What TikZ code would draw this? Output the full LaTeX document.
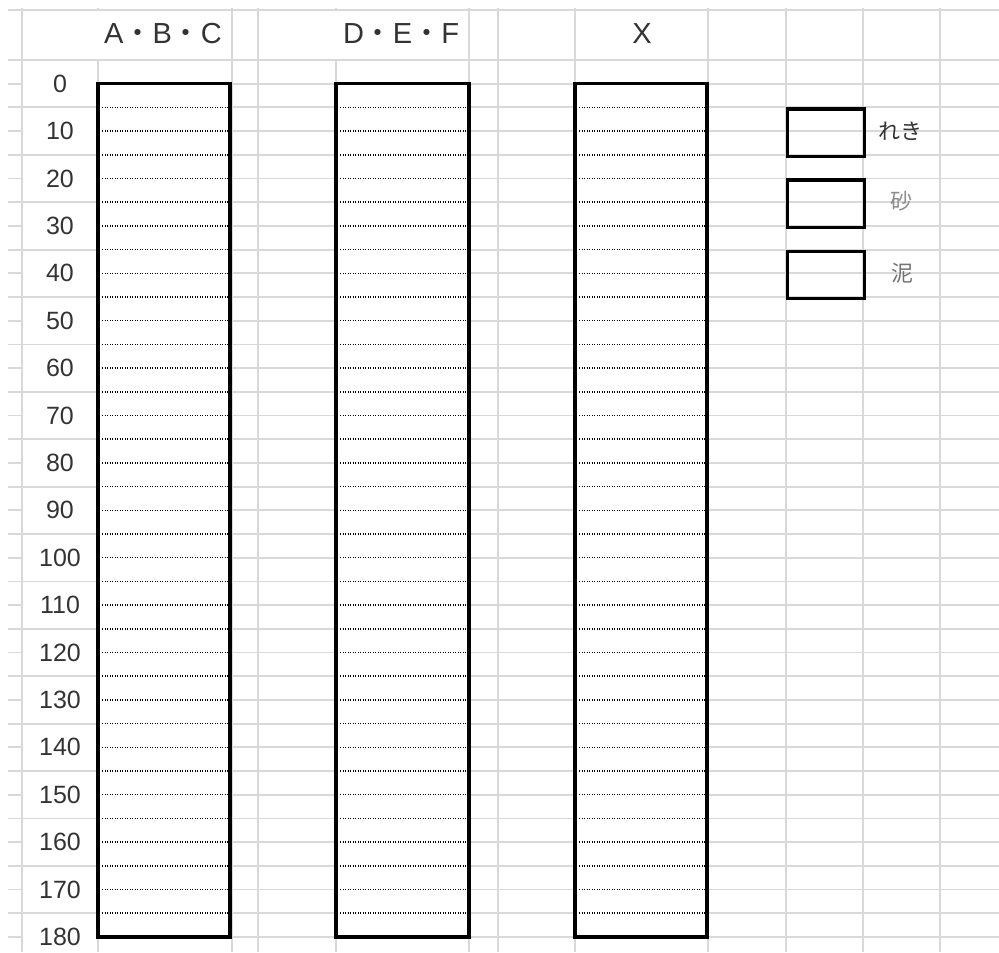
\documentclass[tikz,border=0pt]{standalone}
\usepackage{fontspec}
\setmainfont{Liberation Sans}
\newfontfamily\cjk{Noto Sans CJK JP}
\usepackage{xcolor}
\usetikzlibrary{positioning}
\definecolor{gridgray}{HTML}{D9D9D9}
\definecolor{inkgray}{HTML}{333333}

\begin{document}
\begin{tikzpicture}[x=0.5pt, y=-0.5pt,
    gridline/.style={draw=gridgray, line width=0.9pt},
    column/.style={draw=black, fill=white, line width=1.6pt},
    layer/.style={draw=black, line width=0.75pt, dash pattern=on 0.55pt off 0.7pt},
    legendbox/.style={draw=black, line width=1.6pt, minimum width=38.5pt, minimum height=23.7pt, inner sep=0pt, anchor=north west},
    header/.style={font=\fontsize{14.5}{16}\selectfont, text=inkgray},
    depth/.style={font=\fontsize{12.5}{14}\selectfont, text=inkgray},
    soil/.style={font=\cjk\fontsize{11}{13}\selectfont}
]
\useasboundingbox (0,0) rectangle (999,952);
% spreadsheet grid
\draw[gridline] (8,10) -- (999,10);
\draw[gridline] (8,60) -- (999,60);
\foreach \k in {1,...,37}{
  \pgfmathsetmacro\yy{60+23.7*\k}
  \draw[gridline] (8,\yy) -- (22,\yy);
  \draw[gridline] (232,\yy) -- (336,\yy);
  \draw[gridline] (469,\yy) -- (575,\yy);
  \draw[gridline] (708,\yy) -- (999,\yy);
}
\foreach \k in {2,4,...,36}{
  \pgfmathsetmacro\yy{60+23.7*\k}
  \draw[gridline] (22,\yy) -- (98,\yy);
}
\foreach \x in {22,232,258,469,498,575,708,786,863,940}
  \draw[gridline] (\x,8) -- (\x,952);
\foreach \x in {98,336}{
  \draw[gridline] (\x,8) -- (\x,10);
  \draw[gridline] (\x,60) -- (\x,952);
}
% columns with 10 cm layers
\foreach \xl/\xr in {98/230, 336/469, 575/707}{
  \draw[column] (\xl,83.7) rectangle (\xr,936.9);
  \foreach \k in {2,...,36}{
    \pgfmathsetmacro\yy{60+23.7*\k}
    \draw[layer] (\xl+4,\yy) -- (\xr-2,\yy);
  }
}
% headers
\node[header] (hdrABC) at (163,34) {A{\cjk ・}B{\cjk ・}C};
\node[header] (hdrDEF) at (401,34) {D{\cjk ・}E{\cjk ・}F};
\node[header] (hdrX) at (642,34) {X};
% depth scale
\foreach \k in {0,...,18}{
  \pgfmathtruncatemacro\dd{10*\k}
  \pgfmathsetmacro\yy{60+23.7*(2*\k+1)}
  \node[depth] (depth\dd) at (60,\yy) {\dd};
}
% legend
\node[legendbox] (gravel) at (786,107.4) {};
\node[legendbox] (sand) at (786,178.5) {};
\node[legendbox] (mud) at (786,249.6) {};
\node[soil, text=black!80] (gravelTxt) at (900,131) {れき};
\node[soil, text=black!45] (sandTxt) at (901,201) {砂};
\node[soil, text=black!55] (mudTxt) at (902,273) {泥};
\end{tikzpicture}
\end{document}
